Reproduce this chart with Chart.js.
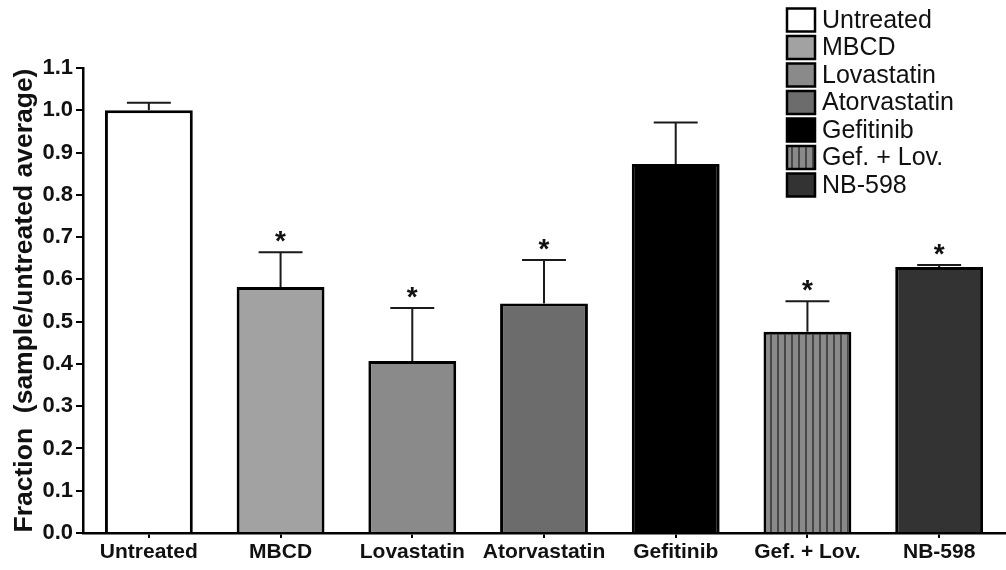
<!DOCTYPE html>
<html>
<head>
<meta charset="utf-8">
<script src="https://cdn.jsdelivr.net/npm/chart.js@4.4.0/dist/chart.umd.min.js"></script>
<style>
  html, body { margin: 0; padding: 0; background: #ffffff; }
  #wrap { width: 1006px; height: 570px; position: relative; }
</style>
</head>
<body>
<div id="wrap"><canvas id="c" width="1006" height="570"></canvas></div>
<script>
// ---- data ----
const categories = ['Untreated', 'MBCD', 'Lovastatin', 'Atorvastatin', 'Gefitinib', 'Gef. + Lov.', 'NB-598'];
const means = [1.0, 0.582, 0.407, 0.543, 0.873, 0.476, 0.629];
const errors = [0.018, 0.082, 0.125, 0.103, 0.098, 0.072, 0.005];
const significant = [false, true, true, true, false, true, true];
const yTickValues = [0.0, 0.1, 0.2, 0.3, 0.4, 0.5, 0.6, 0.7, 0.8, 0.9, 1.0, 1.1];

// ---- styles ----
function stripePattern() {
  const pc = document.createElement('canvas');
  pc.width = 7; pc.height = 4;
  const g = pc.getContext('2d');
  g.fillStyle = '#8a8a8a';
  g.fillRect(0, 0, 7, 4);
  g.fillStyle = '#474747';
  g.fillRect(0, 0, 2, 4);
  return g.createPattern(pc, 'repeat');
}
const stripes = stripePattern();
const fills = ['#ffffff', '#a2a2a2', '#8a8a8a', '#6c6c6c', '#000000', stripes, '#333333'];

const FONT = '"Liberation Sans", Arial, Helvetica, sans-serif';

const errorBarPlugin = {
  id: 'errorBars',
  afterDatasetsDraw(chart) {
    const ctx = chart.ctx;
    const meta = chart.getDatasetMeta(0);
    const y = chart.scales.y;
    ctx.save();
    meta.data.forEach((bar, i) => {
      const top = y.getPixelForValue(means[i]);
      const capY = y.getPixelForValue(means[i] + errors[i]);
      const half = bar.width / 4;
      ctx.strokeStyle = '#1a1a1a';
      ctx.lineWidth = 2;
      ctx.beginPath();
      ctx.moveTo(bar.x, top);
      ctx.lineTo(bar.x, capY);
      ctx.moveTo(bar.x - half, capY);
      ctx.lineTo(bar.x + half, capY);
      ctx.stroke();
      if (significant[i]) {
        ctx.fillStyle = '#111';
        ctx.font = 'bold 28px ' + FONT;
        ctx.textAlign = 'center';
        ctx.textBaseline = 'middle';
        ctx.fillText('*', bar.x, capY - 10);
      }
    });
    ctx.restore();
  }
};

const legendPlugin = {
  id: 'customLegend',
  afterDraw(chart) {
    const ctx = chart.ctx;
    ctx.save();
    const x0 = 787, y0 = 20, step = 27.5, bw = 28, bh = 23;
    categories.forEach((name, i) => {
      const cy = y0 + i * step;
      ctx.fillStyle = fills[i];
      ctx.fillRect(x0, cy - bh / 2, bw, bh);
      ctx.strokeStyle = '#000';
      ctx.lineWidth = 2.5;
      ctx.strokeRect(x0, cy - bh / 2, bw, bh);
      ctx.fillStyle = '#111';
      ctx.font = '25px ' + FONT;
      ctx.textAlign = 'left';
      ctx.textBaseline = 'middle';
      ctx.fillText(name, x0 + 35, cy + 1);
    });
    ctx.restore();
  }
};

new Chart(document.getElementById('c'), {
  type: 'bar',
  data: {
    labels: categories,
    datasets: [{
      data: means,
      backgroundColor: fills,
      borderColor: '#000000',
      borderWidth: 3,
      barPercentage: 0.667,
      categoryPercentage: 1.0
    }]
  },
  options: {
    responsive: false,
    animation: false,
    layout: { padding: { top: 68, right: 1, left: 0, bottom: 0 } },
    plugins: {
      legend: { display: false },
      tooltip: { enabled: false }
    },
    scales: {
      x: {
        offset: true,
        border: { color: '#000', width: 2.5 },
        grid: { display: true, drawOnChartArea: false, drawTicks: true, tickLength: 5, offset: false, color: '#000', lineWidth: 2 },
        ticks: { color: '#111', font: { family: FONT, size: 21, weight: 'bold' }, padding: 2, maxRotation: 0, autoSkip: false },
        afterFit(scale) { scale.height = 37; }
      },
      y: {
        min: 0,
        max: 1.1,
        border: { color: '#000', width: 2.5 },
        grid: { display: true, drawOnChartArea: false, drawTicks: true, tickLength: 7, color: '#000', lineWidth: 2 },
        afterBuildTicks(scale) { scale.ticks = yTickValues.map(v => ({ value: v })); },
        ticks: {
          color: '#111',
          padding: 3,
          font: { family: FONT, size: 22, weight: 'bold' },
          callback: (v) => Number(v).toFixed(1)
        },
        title: {
          display: true,
          text: 'Fraction  (sample/untreated average)',
          color: '#111',
          font: { family: FONT, size: 26.5, weight: 'bold' },
          padding: { top: 9, bottom: 0 }
        },
        afterFit(scale) { scale.width = 83; }
      }
    }
  },
  plugins: [errorBarPlugin, legendPlugin]
});
</script>
</body>
</html>
